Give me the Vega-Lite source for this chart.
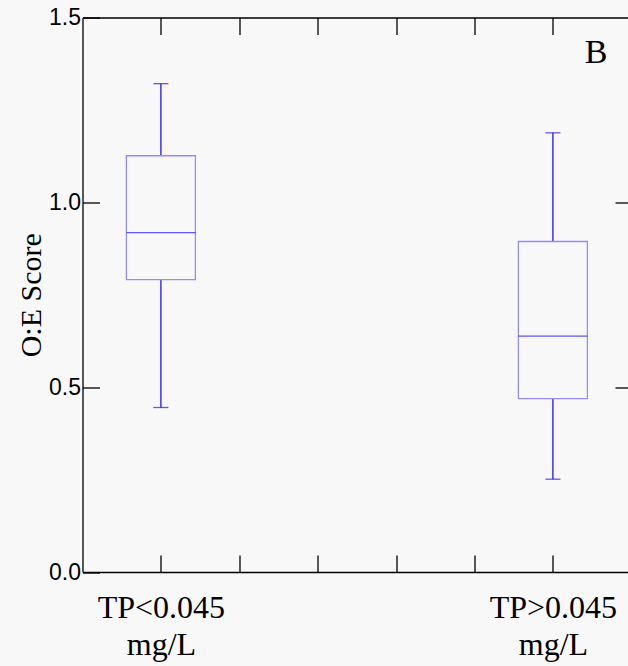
{
  "$schema": "https://vega.github.io/schema/vega-lite/v6.json",
  "width": 545.5,
  "height": 554.5,
  "autosize": {"type": "none"},
  "padding": {"left": 82.5, "top": 17.5, "right": 0, "bottom": 94},
  "background": "#f8f8f8",
  "config": {
    "view": {"stroke": null},
    "axis": {"grid": false, "tickColor": "#000000", "tickWidth": 1.3, "domainColor": "#000000", "domainWidth": 1.3, "labelColor": "#000000", "titleColor": "#000000"},
    "axisLeft": {
      "titleFont": "Liberation Serif",
      "titleFontSize": 30,
      "titleFontWeight": "normal",
      "titlePadding": 2,
      "labelFont": "Liberation Sans",
      "labelFontSize": 23,
      "labelPadding": 19,
      "tickSize": -17
    },
    "axisRight": {"labels": false, "domain": false, "tickSize": -13},
    "axisTop": {"labels": false, "tickSize": -17},
    "axisBottom": {
      "labelFont": "Liberation Serif",
      "labelFontSize": 32,
      "labelLineHeight": 37,
      "labelPadding": 37,
      "labelBaseline": "top",
      "labelOverlap": false,
      "labelBound": false,
      "tickSize": -17
    }
  },
  "data": {
    "values": [
      {"group": "TP<0.045 mg/L", "slot": 1, "lower": 0.445, "q1": 0.791, "median": 0.918, "q3": 1.126, "upper": 1.321},
      {"group": "TP>0.045 mg/L", "slot": 6, "lower": 0.251, "q1": 0.469, "median": 0.638, "q3": 0.894, "upper": 1.188}
    ]
  },
  "resolve": {"scale": {"x": "shared", "y": "shared"}},
  "layer": [
    {
      "mark": {"type": "rule", "color": "#2412f2", "strokeWidth": 1.3},
      "encoding": {
        "x": {
          "field": "slot",
          "type": "quantitative",
          "scale": {"domain": [0, 6.958], "nice": false, "zero": false, "padding": 0},
          "axis": null
        },
        "y": {
          "field": "q3",
          "type": "quantitative",
          "scale": {"domain": [0, 1.5], "nice": false, "padding": 0},
          "axis": {
            "orient": "left",
            "values": [0, 0.5, 1.0, 1.5],
            "format": ".1f",
            "title": "O:E Score"
          }
        },
        "y2": {"field": "upper"}
      }
    },
    {
      "mark": {"type": "rule", "color": "#2412f2", "strokeWidth": 1.3},
      "encoding": {
        "x": {"field": "slot", "type": "quantitative", "axis": null},
        "y": {"field": "lower", "type": "quantitative", "axis": null},
        "y2": {"field": "q1"}
      }
    },
    {
      "mark": {"type": "bar", "fill": null, "fillOpacity": 0, "stroke": "#958cfa", "strokeWidth": 1.3, "size": 69},
      "encoding": {
        "x": {"field": "slot", "type": "quantitative", "axis": null},
        "y": {"field": "q1", "type": "quantitative", "axis": null},
        "y2": {"field": "q3"}
      }
    },
    {
      "mark": {"type": "tick", "orient": "horizontal", "color": "#2412f2", "size": 69, "thickness": 1.3},
      "encoding": {
        "x": {"field": "slot", "type": "quantitative", "axis": null},
        "y": {"field": "median", "type": "quantitative", "axis": null}
      }
    },
    {
      "mark": {"type": "tick", "orient": "horizontal", "color": "#2412f2", "size": 15, "thickness": 1.3},
      "encoding": {
        "x": {"field": "slot", "type": "quantitative", "axis": null},
        "y": {"field": "upper", "type": "quantitative", "axis": null}
      }
    },
    {
      "mark": {"type": "tick", "orient": "horizontal", "color": "#2412f2", "size": 15, "thickness": 1.3},
      "encoding": {
        "x": {"field": "slot", "type": "quantitative", "axis": null},
        "y": {"field": "lower", "type": "quantitative", "axis": null}
      }
    },
    {
      "data": {"values": [{"panel": "B"}]},
      "mark": {"type": "text", "font": "Liberation Serif", "fontSize": 34, "fill": "#000000", "align": "center", "baseline": "middle"},
      "encoding": {
        "x": {"datum": 6.55, "type": "quantitative", "axis": null},
        "y": {"datum": 1.405, "type": "quantitative", "axis": null},
        "text": {"field": "panel", "type": "nominal"}
      }
    },
    {
      "data": {"values": [{"tick": 1}, {"tick": 2}, {"tick": 3}, {"tick": 4}, {"tick": 5}, {"tick": 6}]},
      "mark": {"type": "point", "opacity": 0},
      "encoding": {
        "x": {
          "field": "tick",
          "type": "quantitative",
          "axis": {
            "orient": "bottom",
            "values": [1, 2, 3, 4, 5, 6],
            "labelExpr": "datum.value == 1 ? ['TP<0.045', 'mg/L'] : datum.value == 6 ? ['TP>0.045', 'mg/L'] : ''",
            "title": null
          }
        },
        "y": {"datum": 0, "type": "quantitative", "axis": null}
      }
    },
    {
      "data": {"values": [{"tick": 1}, {"tick": 6}]},
      "mark": {"type": "point", "opacity": 0},
      "encoding": {
        "x": {
          "field": "tick",
          "type": "quantitative",
          "axis": {
            "orient": "top",
            "values": [1, 2, 3, 4, 5, 6],
            "title": null
          }
        },
        "y": {"datum": 0, "type": "quantitative", "axis": null}
      }
    },
    {
      "data": {"values": [{"v": 0.5}, {"v": 1.0}]},
      "mark": {"type": "point", "opacity": 0},
      "encoding": {
        "x": {"datum": 1, "type": "quantitative", "axis": null},
        "y": {
          "field": "v",
          "type": "quantitative",
          "axis": {
            "orient": "right",
            "values": [0.5, 1.0],
            "title": null
          }
        }
      }
    }
  ]
}
